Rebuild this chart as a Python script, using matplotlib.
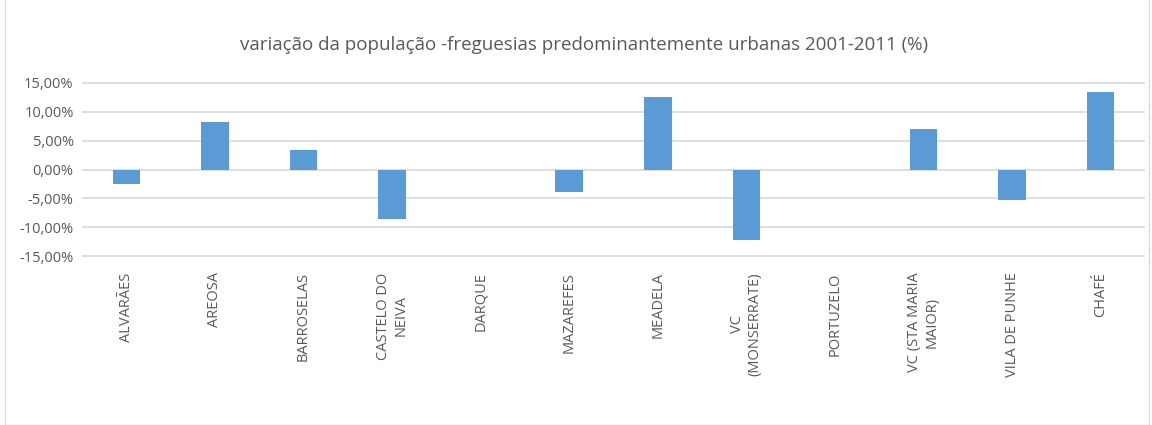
import matplotlib
matplotlib.use("Agg")
import matplotlib.pyplot as plt
from matplotlib.ticker import FuncFormatter
from matplotlib.patches import Rectangle

categories = ["ALVARÃES", "AREOSA", "BARROSELAS", "CASTELO DO\nNEIVA", "DARQUE",
              "MAZAREFES", "MEADELA", "VC\n(MONSERRATE)", "PORTUZELO",
              "VC (STA MARIA\nMAIOR)", "VILA DE PUNHE", "CHAFÉ"]
values = [-2.5, 8.15, 3.3, -8.5, 0.0, -3.9, 12.5, -12.2, 0.0, 7.0, -5.3, 13.3]
yticks = [-15, -10, -5, 0, 5, 10, 15]
title = "variação da população -freguesias predominantemente urbanas 2001-2011 (%)"

plt.rcParams['font.family'] = ['Open Sans', 'DejaVu Sans']
gray = '#595959'

fig = plt.figure(figsize=(11.52, 4.25), dpi=100)
ax = fig.add_axes([82/1152, 1-257/425, (1145-82)/1152, (257-82)/425])

x = list(range(len(categories)))
ax.bar(x, values, width=0.31, color='#5b9bd5', zorder=3)
ax.set_xlim(-0.5, len(categories)-0.5)
ax.set_ylim(-15.1, 15.1)
ax.set_yticks(yticks)
ax.yaxis.set_major_formatter(FuncFormatter(lambda v, p: f"{v:.2f}%".replace('.', ',')))
ax.grid(axis='y', color='#d9d9d9', linewidth=1.2, zorder=0)
for s in ax.spines.values():
    s.set_visible(False)
ax.tick_params(axis='both', length=0, colors=gray, labelsize=10.5)
ax.set_xticks(x)
ax.set_xticklabels(categories, rotation=90, fontsize=10.5, color=gray,
                   va='top', ha='center', multialignment='center')
ax.tick_params(axis='x', pad=11)
ax.tick_params(axis='y', pad=6)

fig.text(584/1152, 1-45/425, title, ha='center', va='center', fontsize=13.5, color=gray)

fig.patches.append(Rectangle((5/1152, 0), 1144/1152, 1.2, transform=fig.transFigure,
                             fill=False, edgecolor='#d9d9d9', linewidth=1))

fig.savefig("out.png", dpi=100)
